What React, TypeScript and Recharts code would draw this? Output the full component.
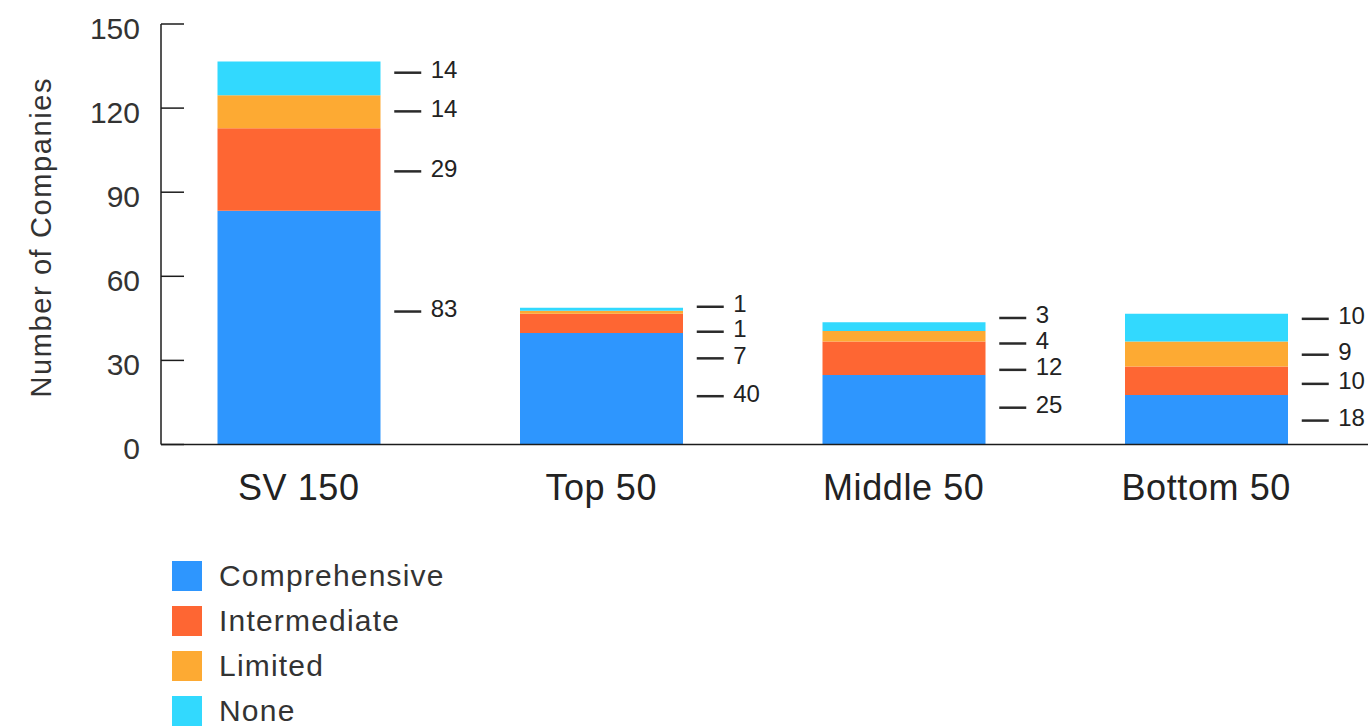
import { Bar, ComposedChart, Legend, Line, XAxis, YAxis } from 'recharts';

const FONT = '"Liberation Sans", Arial, Helvetica, sans-serif';

const categories = ['SV 150', 'Top 50', 'Middle 50', 'Bottom 50'];

// bar heights as drawn
const comprehensive = [83.4, 39.8, 24.8, 17.7];
const intermediate = [29.4, 6.8, 11.9, 10.1];
const limited = [11.8, 1.1, 3.8, 8.9];
const none = [12.0, 1.1, 3.1, 9.9];

// printed labels beside the bars
const comprehensiveLabels = [83, 40, 25, 18];
const intermediateLabels = [29, 7, 12, 10];
const limitedLabels = [14, 1, 4, 9];
const noneLabels = [14, 1, 3, 10];

// where each printed label sits, in axis units
const comprehensiveLabelAt = [48.5, 18.3, 14.2, 9.6];
const intermediateLabelAt = [98.5, 31.8, 27.7, 22.7];
const limitedLabelAt = [119.9, 41.3, 37.1, 33.1];
const noneLabelAt = [133.7, 50.2, 46.2, 45.9];

const yTicks = [0, 30, 60, 90, 120, 150];

const series = [
  { key: 'comprehensive', name: 'Comprehensive', color: '#2e96fe' },
  { key: 'intermediate', name: 'Intermediate', color: '#fe6633' },
  { key: 'limited', name: 'Limited', color: '#fdaa33' },
  { key: 'none', name: 'None', color: '#32d9fe' },
];

const data = categories.map((name, i) => ({
  name,
  comprehensive: comprehensive[i],
  intermediate: intermediate[i],
  limited: limited[i],
  none: none[i],
  comprehensiveLabelAt: comprehensiveLabelAt[i],
  intermediateLabelAt: intermediateLabelAt[i],
  limitedLabelAt: limitedLabelAt[i],
  noneLabelAt: noneLabelAt[i],
}));

const labelText: Record<string, number[]> = {
  comprehensive: comprehensiveLabels,
  intermediate: intermediateLabels,
  limited: limitedLabels,
  none: noneLabels,
};

const AXIS = '#1c1c1c';

function makeLabelDot(key: string) {
  return (props: any) => {
    const { cx, cy, index } = props;
    if (cx == null || cy == null) return <g key={`${key}-${index}`} />;
    return (
      <g key={`${key}-${index}`}>
        <line x1={cx + 95.5} x2={cx + 122.5} y1={cy + 3} y2={cy + 3} stroke="#2a2a2a" strokeWidth={2.5} />
        <text
          x={cx + 132}
          y={cy}
          dominantBaseline="central"
          fontSize={24}
          fontFamily={FONT}
          fill="#222"
        >
          {labelText[key][index]}
        </text>
      </g>
    );
  };
}

function YTick(props: any) {
  const { x, y, payload } = props;
  return (
    <g>
      <line x1={x} x2={x + 23} y1={y} y2={y} stroke={AXIS} strokeWidth={1.5} />
      <text
        x={x - 21}
        y={y + 4}
        textAnchor="end"
        dominantBaseline="central"
        fontSize={30}
        fontFamily={FONT}
        fill="#333"
      >
        {payload.value}
      </text>
    </g>
  );
}

function XTick(props: any) {
  const { x, y, payload } = props;
  return (
    <text
      x={x}
      y={y + 43}
      textAnchor="middle"
      dominantBaseline="central"
      fontSize={36}
      letterSpacing={0.6}
      fontFamily={FONT}
      fill="#222"
    >
      {payload.value}
    </text>
  );
}

function YLabel(props: any) {
  const { viewBox } = props;
  const cx = viewBox.x + 41;
  const cy = viewBox.y + viewBox.height / 2 + 3;
  return (
    <text
      x={cx}
      y={cy}
      transform={`rotate(-90, ${cx}, ${cy})`}
      textAnchor="middle"
      dominantBaseline="central"
      fontSize={29}
      letterSpacing={1.6}
      fontFamily={FONT}
      fill="#333"
    >
      Number of Companies
    </text>
  );
}

function LegendBox() {
  return (
    <div style={{ height: 174, paddingLeft: 172, fontFamily: FONT, overflow: 'visible' }}>
      {series.map((s) => (
        <div key={s.key} style={{ display: 'flex', alignItems: 'center', height: 45 }}>
          <span style={{ width: 30, height: 30, background: s.color, display: 'inline-block' }} />
          <span style={{ marginLeft: 17, fontSize: 30, color: '#333', letterSpacing: 1.2 }}>{s.name}</span>
        </div>
      ))}
    </div>
  );
}

export default function App() {
  return (
    <div style={{ position: 'absolute', left: 0, top: 0, width: 1368, height: 727, overflow: 'hidden' }}>
      <ComposedChart
        width={1368}
        height={727}
        data={data}
        margin={{ top: 24, right: 0, bottom: 0, left: 0 }}
      >
        <XAxis
          dataKey="name"
          height={108.5}
          padding={{ left: -13.5, right: 10.5 }}
          axisLine={{ stroke: AXIS, strokeWidth: 1.5 }}
          tickLine={false}
          tickSize={0}
          tickMargin={0}
          tick={<XTick />}
          interval={0}
        />
        <YAxis
          width={161}
          domain={[0, 150]}
          ticks={yTicks}
          axisLine={{ stroke: AXIS, strokeWidth: 1.5 }}
          tickLine={false}
          tickSize={0}
          tickMargin={0}
          tick={<YTick />}
          label={<YLabel />}
        />
        <Legend verticalAlign="bottom" align="left" layout="horizontal" content={<LegendBox />} />
        {series.map((s) => (
          <Bar
            key={s.key}
            dataKey={s.key}
            name={s.name}
            stackId="a"
            fill={s.color}
            barSize={163}
            isAnimationActive={false}
          />
        ))}
        {series.map((s) => (
          <Line
            key={`${s.key}-label`}
            dataKey={`${s.key}LabelAt`}
            stroke="none"
            legendType="none"
            dot={makeLabelDot(s.key)}
            activeDot={false}
            isAnimationActive={false}
          />
        ))}
      </ComposedChart>
    </div>
  );
}
